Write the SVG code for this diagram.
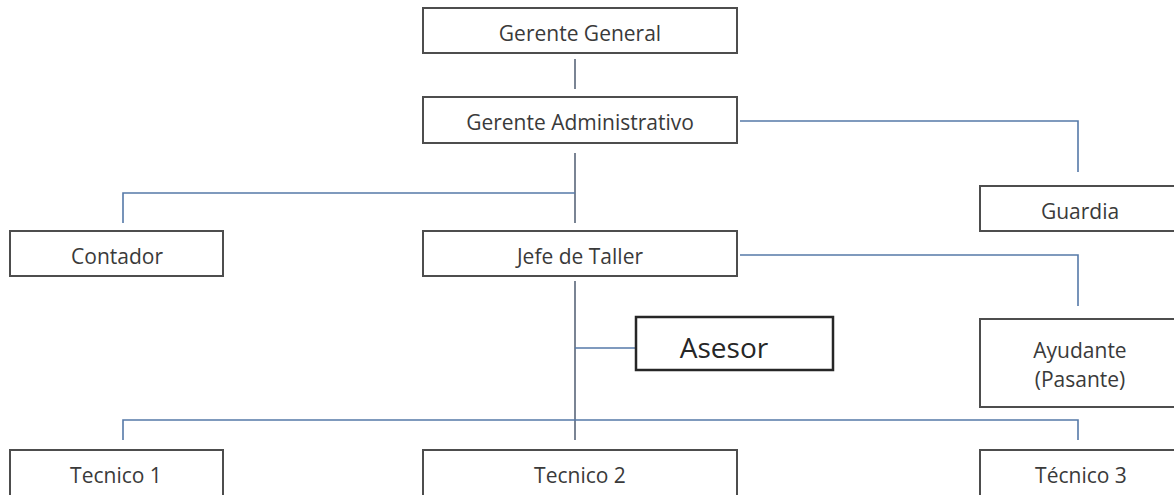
<svg xmlns="http://www.w3.org/2000/svg" width="1174" height="495" viewBox="0 0 1174 495">
<style>
.box{fill:#fff;stroke:#4d4d4d;stroke-width:2}
.box2{fill:#fff;stroke:#262626;stroke-width:2.5}
.t{font-family:"Open Sans","Liberation Sans",sans-serif;font-size:21px;fill:#3a3a3a;text-anchor:middle}
.tb{font-family:"Open Sans","Liberation Sans",sans-serif;font-size:28px;fill:#262626;text-anchor:middle}
.c{fill:none;stroke:#5579a8;stroke-width:1.6}
.v{fill:none;stroke:#7a8494;stroke-width:2}
</style>
<rect width="1174" height="495" fill="#fff"/>
<g id="connectors">
<path class="v" d="M575,59 V89"/>
<path class="v" d="M575,153 V223"/>
<path class="c" d="M123,223 V193 H575"/>
<path class="c" d="M740,121 H1078 V172"/>
<path class="c" d="M740,255 H1078 V306"/>
<path class="v" d="M575,281 V440"/>
<path class="c" d="M575,348 H636"/>
<path class="c" d="M123,440 V420 H1078 V440"/>
</g>
<g id="gerente-general">
<rect class="box" x="423" y="8" width="314" height="45"/>
<text class="t" x="580" y="41">Gerente General</text>
</g>
<g id="gerente-administrativo">
<rect class="box" x="423" y="97" width="314" height="46"/>
<text class="t" x="580" y="130">Gerente Administrativo</text>
</g>
<g id="guardia">
<rect class="box" x="980" y="186" width="210" height="45"/>
<text class="t" x="1080" y="219">Guardia</text>
</g>
<g id="contador">
<rect class="box" x="10" y="231" width="213" height="45"/>
<text class="t" x="117" y="264">Contador</text>
</g>
<g id="jefe-de-taller">
<rect class="box" x="423" y="231" width="314" height="45"/>
<text class="t" x="580" y="264">Jefe de Taller</text>
</g>
<g id="asesor">
<rect class="box2" x="636" y="317" width="197" height="53"/>
<text class="tb" x="724" y="358">Asesor</text>
</g>
<g id="ayudante">
<rect class="box" x="980" y="319" width="210" height="88"/>
<text class="t" x="1080" y="358">Ayudante</text>
<text class="t" x="1080" y="387">(Pasante)</text>
</g>
<g id="tecnico-1">
<rect class="box" x="10" y="450" width="213" height="60"/>
<text class="t" x="116" y="483">Tecnico 1</text>
</g>
<g id="tecnico-2">
<rect class="box" x="423" y="450" width="314" height="60"/>
<text class="t" x="580" y="483">Tecnico 2</text>
</g>
<g id="tecnico-3">
<rect class="box" x="980" y="450" width="210" height="60"/>
<text class="t" x="1081" y="483">Técnico 3</text>
</g>
</svg>
